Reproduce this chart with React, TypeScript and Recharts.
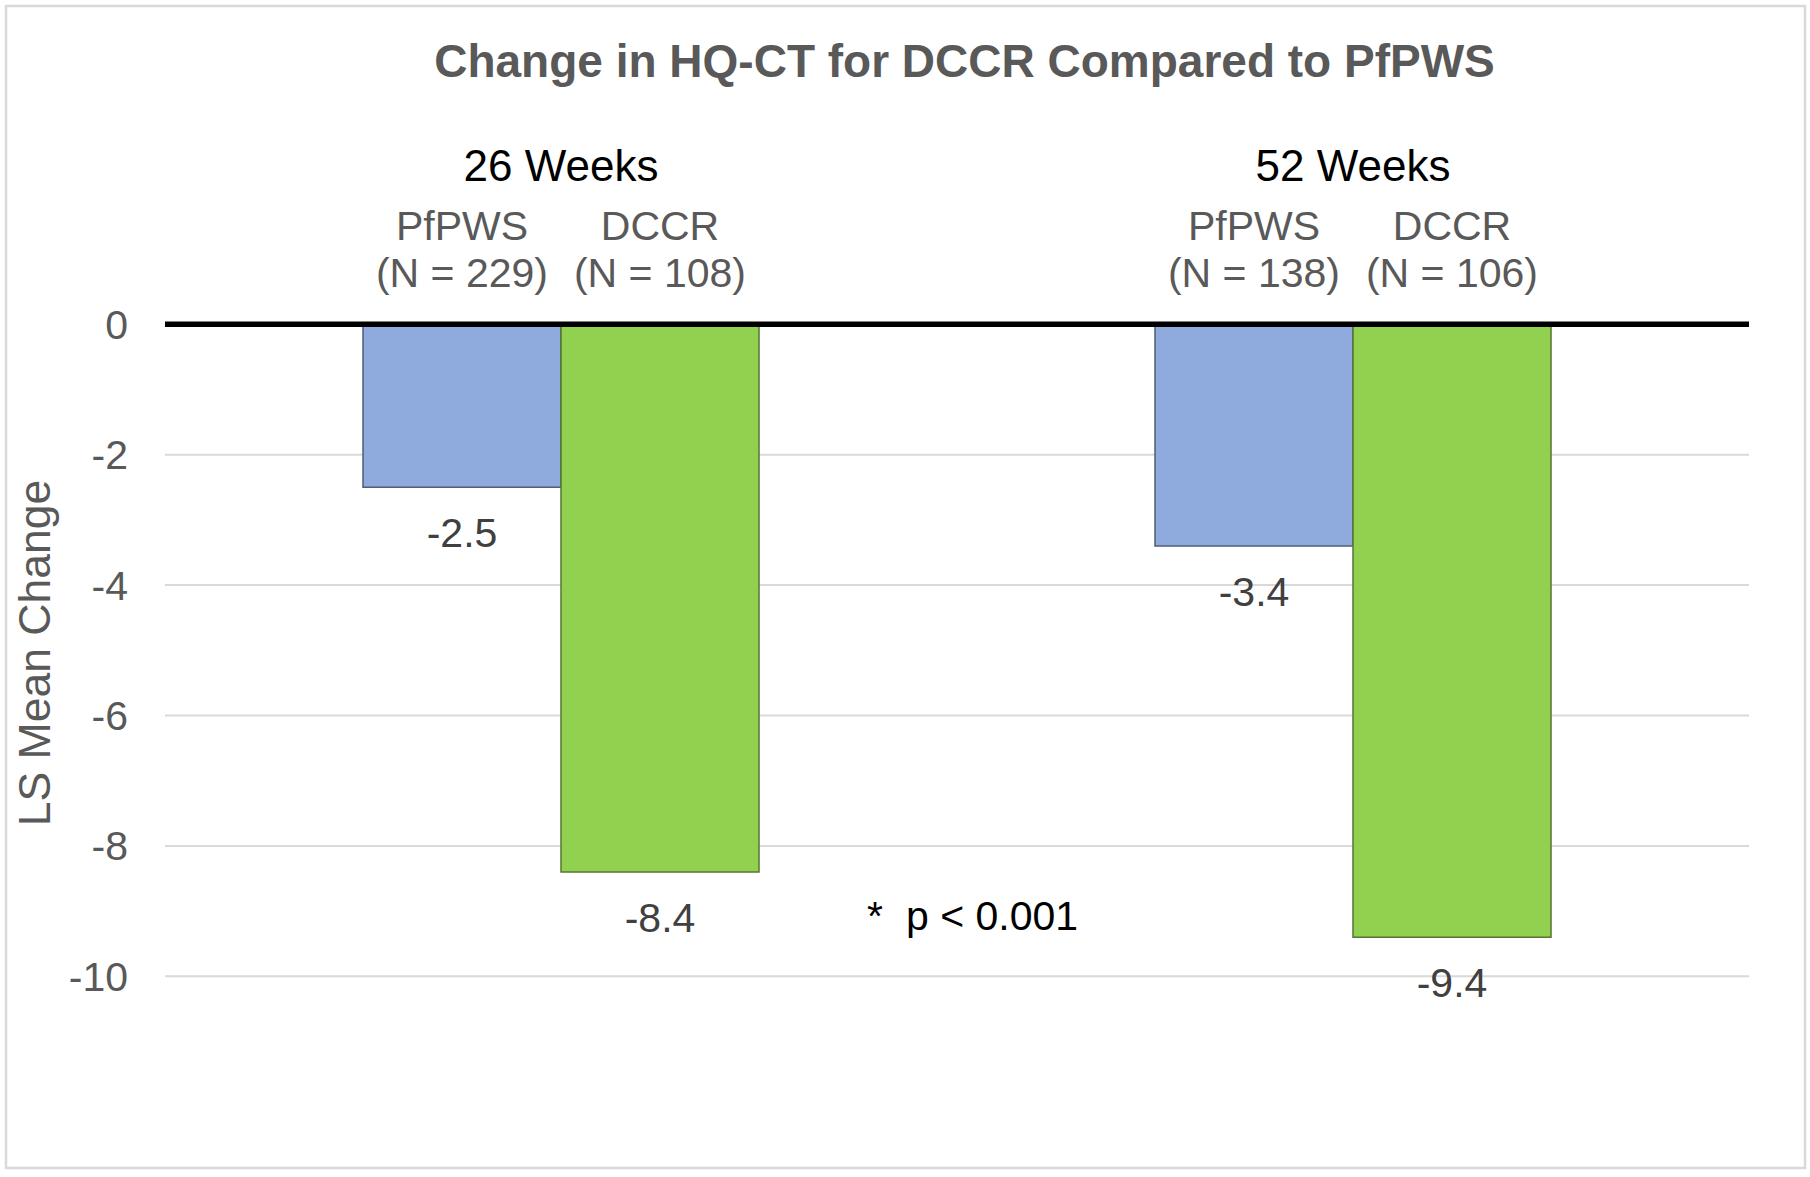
import React from 'react';
import { BarChart, Bar, XAxis, YAxis, CartesianGrid, ReferenceLine, LabelList } from 'recharts';

const categories = ['26 Weeks', '52 Weeks'];
const seriesNames = ['PfPWS', 'DCCR'];
const pfpwsValues = [-2.5, -3.4];
const dccrValues = [-8.4, -9.4];
const pfpwsN = [229, 138];
const dccrN = [108, 106];
const yTicks = [0, -2, -4, -6, -8, -10];

const data = categories.map((c, i) => ({
  category: c,
  pfpws: pfpwsValues[i],
  dccr: dccrValues[i],
  pfpwsN: pfpwsN[i],
  dccrN: dccrN[i],
}));

const FONT = '"Liberation Sans", Arial, Helvetica, sans-serif';

const box = (props: any) => {
  const vb = props.viewBox ?? props;
  const x = Number(vb.x);
  const y = Number(vb.y);
  const w = Number(vb.width);
  const h = Number(vb.height);
  return { cx: x + w / 2, top: Math.min(y, y + h), bottom: Math.max(y, y + h) };
};

const ValueLabel = (props: any) => {
  const { cx, bottom } = box(props);
  return (
    <text x={cx} y={bottom + 60} textAnchor="middle" fontSize={41} fill="#404040" fontFamily={FONT}>
      {String(props.value)}
    </text>
  );
};

const makeHeader = (name: string) => (props: any) => {
  const { cx, top } = box(props);
  return (
    <g>
      <text x={cx} y={top - 84} textAnchor="middle" fontSize={41} fill="#595959" fontFamily={FONT}>
        {name}
      </text>
      <text x={cx} y={top - 37.5} textAnchor="middle" fontSize={41} fill="#595959" fontFamily={FONT}>
        {`(N = ${props.value})`}
      </text>
    </g>
  );
};

const CategoryTick = (props: any) => (
  <text x={props.x} y={181} textAnchor="middle" fontSize={44} fill="#000000" fontFamily={FONT}>
    {props.payload.value}
  </text>
);

export default function App() {
  return (
    <div style={{ position: 'absolute', left: 0, top: 0, width: 1810, height: 1177, background: '#ffffff' }}>
      <BarChart
        width={1810}
        height={1177}
        data={data}
        margin={{ top: 284.3, right: 61, bottom: 200.7, left: 0 }}
        barGap={0}
        barCategoryGap="25%"
      >
        <CartesianGrid vertical={false} stroke="#d9d9d9" strokeWidth={2} />
        <XAxis
          dataKey="category"
          orientation="top"
          height={40}
          axisLine={false}
          tickLine={false}
          tick={<CategoryTick />}
        />
        <YAxis
          domain={[-10, 0]}
          ticks={yTicks}
          width={165}
          axisLine={false}
          tickLine={false}
          tickSize={0}
          tickMargin={37}
          interval={0}
          tick={{ fontSize: 41, fill: '#595959', fontFamily: FONT }}
        />
        <Bar dataKey="pfpws" fill="#8faadc" stroke="#4f5d75" strokeWidth={1.5} isAnimationActive={false}>
          <LabelList dataKey="pfpws" content={ValueLabel} />
          <LabelList dataKey="pfpwsN" content={makeHeader(seriesNames[0])} />
        </Bar>
        <Bar dataKey="dccr" fill="#92d050" stroke="#557532" strokeWidth={1.5} isAnimationActive={false}>
          <LabelList dataKey="dccr" content={ValueLabel} />
          <LabelList dataKey="dccrN" content={makeHeader(seriesNames[1])} />
        </Bar>
        <ReferenceLine y={0} stroke="#000000" strokeWidth={5.5} />
      </BarChart>
      <svg
        width={1810}
        height={1177}
        style={{ position: 'absolute', left: 0, top: 0, pointerEvents: 'none' }}
      >
        <rect x={6} y={6} width={1799} height={1162} fill="none" stroke="#d9d9d9" strokeWidth={2.5} />
        <text x={964.5} y={77} textAnchor="middle" fontSize={46} fontWeight="bold" fill="#595959" fontFamily={FONT}>
          Change in HQ-CT for DCCR Compared to PfPWS
        </text>
        <text transform="translate(50,653) rotate(-90)" textAnchor="middle" fontSize={44.5} fill="#595959" fontFamily={FONT}>
          LS Mean Change
        </text>
        <text x={867} y={930} fontSize={41} fill="#000000" fontFamily={FONT}>*</text>
        <text x={906} y={930} fontSize={41} fill="#000000" fontFamily={FONT}>p &lt; 0.001</text>
      </svg>
    </div>
  );
}
